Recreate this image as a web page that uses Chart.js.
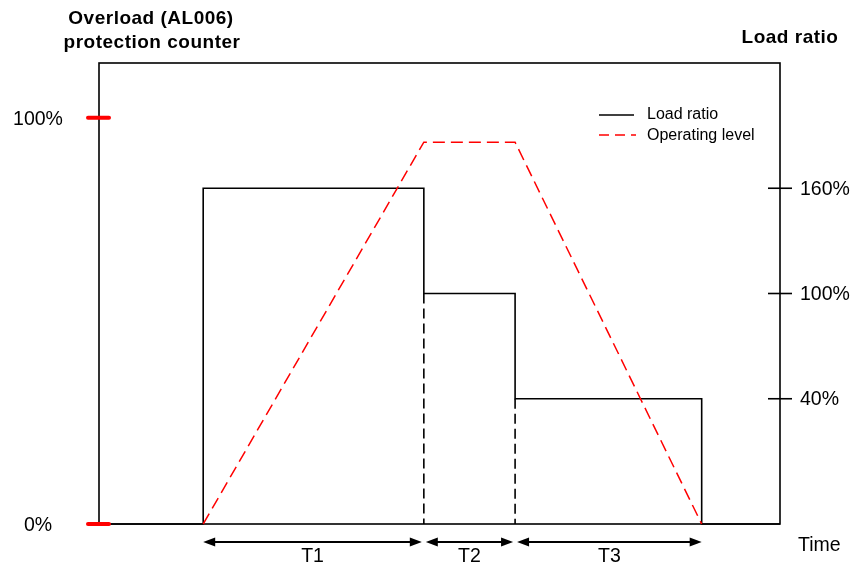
<!DOCTYPE html>
<html>
<head>
<meta charset="utf-8">
<script src="https://cdn.jsdelivr.net/npm/chart.js@4"></script>
<style>
  body { margin: 0; background: #fff; }
  #wrap { width: 852px; height: 564px; }
</style>
</head>
<body>
<div id="wrap"><canvas id="chart" width="852" height="564"></canvas></div>
<script>
// Time axis runs 0..100 across the box (schematic, no real units)
const timeRange = [0, 100];
const phaseBounds = [15.3, 47.7, 61.1, 88.5];
const phaseLabels = ['T1', 'T2', 'T3'];

// Load ratio (right axis) held during each phase
const loadLevels = [160, 100, 40];
const ratioRange = [-31.4, 231.4];
const ratioTicks = [160, 100, 40];
const ratioTickLabels = ['160%', '100%', '40%'];

// Overload protection counter (left axis)
const operatingPeak = 94;
const counterRange = [0, 113.5];
const counterTicks = [100, 0];
const counterTickLabels = ['100%', '0%'];

const FONT = '"Liberation Sans", Arial, sans-serif';

// build the step line for the load ratio
const base = ratioRange[0];
const loadLine = [{ x: timeRange[0], y: base }, { x: phaseBounds[0], y: base }];
loadLevels.forEach((lv, i) => {
    loadLine.push({ x: phaseBounds[i], y: lv }, { x: phaseBounds[i + 1], y: lv });
});
loadLine.push({ x: phaseBounds[3], y: base }, { x: timeRange[1], y: base });

// dashed drops below the lower steps
const dropLines = [];
[1, 2].forEach(i => {
    dropLines.push({ x: phaseBounds[i], y: loadLevels[i] }, { x: phaseBounds[i], y: base }, { x: phaseBounds[i], y: null });
});

const operatingLine = [
    { x: phaseBounds[0], y: 0 },
    { x: phaseBounds[1], y: operatingPeak },
    { x: phaseBounds[2], y: operatingPeak },
    { x: phaseBounds[3], y: 0 }
];

function arrowHead(ctx, x, y, dir) {
    ctx.beginPath();
    ctx.moveTo(x, y);
    ctx.lineTo(x + dir * 12, y - 4.5);
    ctx.lineTo(x + dir * 12, y + 4.5);
    ctx.closePath();
    ctx.fill();
}

const decor = {
    id: 'decor',
    beforeDatasetsDraw(chart) {
        const { ctx, chartArea: a } = chart;
        ctx.save();
        ctx.strokeStyle = '#000';
        ctx.lineWidth = 1.6;
        ctx.strokeRect(a.left, a.top, a.right - a.left, a.bottom - a.top);
        ctx.restore();
    },
    afterDatasetsDraw(chart) {
        const { ctx, chartArea: a, scales } = chart;
        const yL = scales.yL, yR = scales.yR, x = scales.x;
        ctx.save();

        // left axis: red ticks and labels
        ctx.strokeStyle = '#ff0000';
        ctx.lineWidth = 4;
        ctx.lineCap = 'round';
        ctx.fillStyle = '#000';
        ctx.font = '19.5px ' + FONT;
        ctx.textAlign = 'center';
        ctx.textBaseline = 'middle';
        counterTicks.forEach((v, i) => {
            const py = yL.getPixelForValue(v);
            ctx.beginPath();
            ctx.moveTo(a.left - 11, py);
            ctx.lineTo(a.left + 10, py);
            ctx.stroke();
            ctx.fillText(counterTickLabels[i], 38, py + 2);
        });

        // right axis: black ticks crossing the border
        ctx.strokeStyle = '#000';
        ctx.lineWidth = 1.6;
        ctx.lineCap = 'butt';
        ctx.textAlign = 'left';
        ratioTicks.forEach((v, i) => {
            const py = yR.getPixelForValue(v);
            ctx.beginPath();
            ctx.moveTo(a.right - 12, py);
            ctx.lineTo(a.right + 12, py);
            ctx.stroke();
            ctx.fillText(ratioTickLabels[i], a.right + 20, py + 1);
        });

        // axis titles
        ctx.font = 'bold 19px ' + FONT;
        ctx.letterSpacing = '0.5px';
        ctx.textAlign = 'center';
        ctx.fillText('Overload (AL006)', 151, 19);
        ctx.fillText('protection counter', 152, 43);
        ctx.fillText('Load ratio', 790, 38);
        ctx.letterSpacing = '0px';

        // legend inside the box
        const lx = 599, lx2 = 634;
        ctx.lineWidth = 1.5;
        ctx.strokeStyle = '#000';
        ctx.beginPath(); ctx.moveTo(lx, 115); ctx.lineTo(lx2, 115); ctx.stroke();
        ctx.strokeStyle = '#ff0000';
        ctx.setLineDash([10, 6]);
        ctx.beginPath(); ctx.moveTo(lx, 135); ctx.lineTo(lx2 + 2, 135); ctx.stroke();
        ctx.setLineDash([]);
        ctx.font = '16px ' + FONT;
        ctx.textAlign = 'left';
        ctx.fillText('Load ratio', 647, 115);
        ctx.fillText('Operating level', 647, 136);

        // phase arrows under the box
        const ay = a.bottom + 18;
        ctx.strokeStyle = '#000';
        ctx.fillStyle = '#000';
        ctx.lineWidth = 2;
        ctx.font = '19.5px ' + FONT;
        ctx.textAlign = 'center';
        phaseLabels.forEach((lab, i) => {
            const x1 = x.getPixelForValue(phaseBounds[i]) + (i ? 2 : 0);
            const x2 = x.getPixelForValue(phaseBounds[i + 1]) - (i < 2 ? 2 : 0);
            ctx.beginPath();
            ctx.moveTo(x1 + 8, ay);
            ctx.lineTo(x2 - 8, ay);
            ctx.stroke();
            arrowHead(ctx, x1, ay, 1);
            arrowHead(ctx, x2, ay, -1);
            ctx.fillText(lab, (x1 + x2) / 2, ay + 15);
        });
        ctx.textAlign = 'left';
        ctx.fillText('Time', 798, 546);

        ctx.restore();
    }
};

const ctx = document.getElementById('chart').getContext('2d');
const chart = new Chart(ctx, {
    type: 'line',
    data: {
        datasets: [
            {
                label: 'Operating level',
                data: operatingLine,
                yAxisID: 'yL',
                borderColor: '#ff0000',
                borderWidth: 1.5,
                borderDash: [12, 6],
                pointRadius: 0,
                fill: false,
                clip: false,
                order: 0
            },
            {
                label: 'Load ratio',
                data: loadLine,
                yAxisID: 'yR',
                borderColor: '#000',
                borderWidth: 1.6,
                pointRadius: 0,
                fill: false,
                clip: false,
                order: 1
            },
            {
                label: 'drop',
                data: dropLines,
                yAxisID: 'yR',
                borderColor: '#000',
                borderWidth: 1.6,
                borderDash: [10, 5],
                pointRadius: 0,
                spanGaps: false,
                fill: false,
                clip: false,
                order: 2
            }
        ]
    },
    options: {
        responsive: false,
        animation: false,
        events: [],
        layout: { padding: { left: 99, right: 72, top: 63, bottom: 40 } },
        scales: {
            x: { type: 'linear', min: timeRange[0], max: timeRange[1], display: false },
            yL: { type: 'linear', position: 'left', min: counterRange[0], max: counterRange[1], display: false },
            yR: { type: 'linear', position: 'right', min: ratioRange[0], max: ratioRange[1], display: false }
        },
        plugins: {
            legend: { display: false },
            tooltip: { enabled: false }
        }
    },
    plugins: [decor]
});
</script>
</body>
</html>
